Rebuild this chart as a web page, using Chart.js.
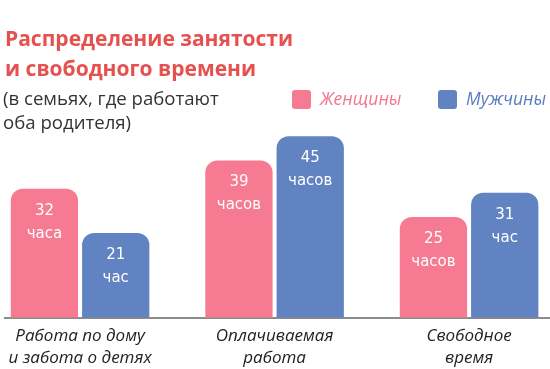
<!DOCTYPE html>
<html>
<head>
<meta charset="utf-8">
<script src="https://cdn.jsdelivr.net/npm/chart.js@4"></script>
<style>
html, body { margin: 0; padding: 0; background: #fff; }
</style>
</head>
<body>
<canvas id="barCanvas" width="550" height="369"></canvas>
<script>
// данные
var categories = [["Работа по дому", "и забота о детях"], ["Оплачиваемая", "работа"], ["Свободное", "время"]];
var women = [32, 39, 25];
var men = [21, 45, 31];
var womenUnits = ["часа", "часов", "часов"];
var menUnits = ["час", "часов", "час"];
var seriesNames = ["Женщины", "Мужчины"];
var titleLines = ["Распределение занятости", "и свободного времени"];
var subtitleLines = ["(в семьях, где работают", "оба родителя)"];

var pink = "#f57a92";
var blue = "#6183c2";

function toPoints(arr) {
	return arr.map(function (v, i) { return {x: i, y: v}; });
}

// подписи внутри столбиков
var valuePlugin = {
	id: 'values',
	afterDatasetsDraw: function (chart) {
		var ctx = chart.ctx;
		var units = [womenUnits, menUnits];
		ctx.save();
		ctx.fillStyle = '#fff';
		ctx.textAlign = 'center';
		ctx.textBaseline = 'middle';
		ctx.font = '15px "DejaVu Sans"';
		chart.data.datasets.forEach(function (ds, d) {
			chart.getDatasetMeta(d).data.forEach(function (bar, i) {
				ctx.fillText(String(ds.data[i].y), bar.x, bar.y + 22);
				ctx.fillText(units[d][i], bar.x, bar.y + 45);
			});
		});
		ctx.restore();
	}
};

// подзаголовок и легенда
var headerPlugin = {
	id: 'header',
	afterDraw: function (chart) {
		var ctx = chart.ctx;
		ctx.save();
		ctx.textBaseline = 'middle';
		ctx.textAlign = 'left';
		ctx.fillStyle = '#333';
		ctx.font = '18.6px "Open Sans"';
		ctx.fillText(subtitleLines[0], 3, 100);
		ctx.fillText(subtitleLines[1], 3, 124);

		var items = [
			{x: 292, color: pink, text: seriesNames[0], textColor: '#ef7890'},
			{x: 438, color: blue, text: seriesNames[1], textColor: '#5a7cbf'}
		];
		items.forEach(function (it) {
			ctx.fillStyle = it.color;
			ctx.beginPath();
			ctx.roundRect(it.x, 90, 19, 19, 3);
			ctx.fill();
			ctx.fillStyle = it.textColor;
			ctx.font = 'italic 17.5px "Open Sans"';
			ctx.fillText(it.text, it.x + 28, 100);
		});
		ctx.restore();
	}
};

var ctx = document.getElementById("barCanvas").getContext('2d');
var myBarChart = new Chart(ctx, {
	type: 'bar',
	data: {
		datasets: [{
			label: seriesNames[0],
			data: toPoints(women),
			backgroundColor: pink,
			borderRadius: 12,
			borderSkipped: 'bottom',
			categoryPercentage: 0.733,
			barPercentage: 0.944
		}, {
			label: seriesNames[1],
			data: toPoints(men),
			backgroundColor: blue,
			borderRadius: 12,
			borderSkipped: 'bottom',
			categoryPercentage: 0.733,
			barPercentage: 0.944
		}]
	},
	options: {
		responsive: false,
		animation: false,
		layout: {padding: {left: 5, right: 0, top: 0, bottom: -7}},
		plugins: {
			legend: {display: false},
			tooltip: {enabled: false},
			title: {
				display: true,
				text: titleLines,
				align: 'start',
				color: '#e4514f',
				font: {family: 'Open Sans', size: 21, weight: 'bold', lineHeight: 1.43},
				padding: {top: 25, bottom: 35}
			}
		},
		scales: {
			x: {
				type: 'linear',
				offset: false,
				min: -0.386,
				max: 2.416,
				grid: {display: false, drawTicks: false},
				border: {display: true, color: '#8c8c8c', width: 2, dash: [2, 2]},
				afterBuildTicks: function (scale) {
					scale.ticks = categories.map(function (c, i) { return {value: i}; });
				},
				ticks: {
					autoSkip: false,
					maxRotation: 0,
					padding: 7,
					color: '#222',
					font: {family: 'Open Sans', size: 17, style: 'italic', lineHeight: 1.3},
					callback: function (v) { return categories[v]; }
				}
			},
			y: {display: false, min: 0, max: 49}
		}
	},
	plugins: [valuePlugin, headerPlugin]
});
</script>
</body>
</html>
